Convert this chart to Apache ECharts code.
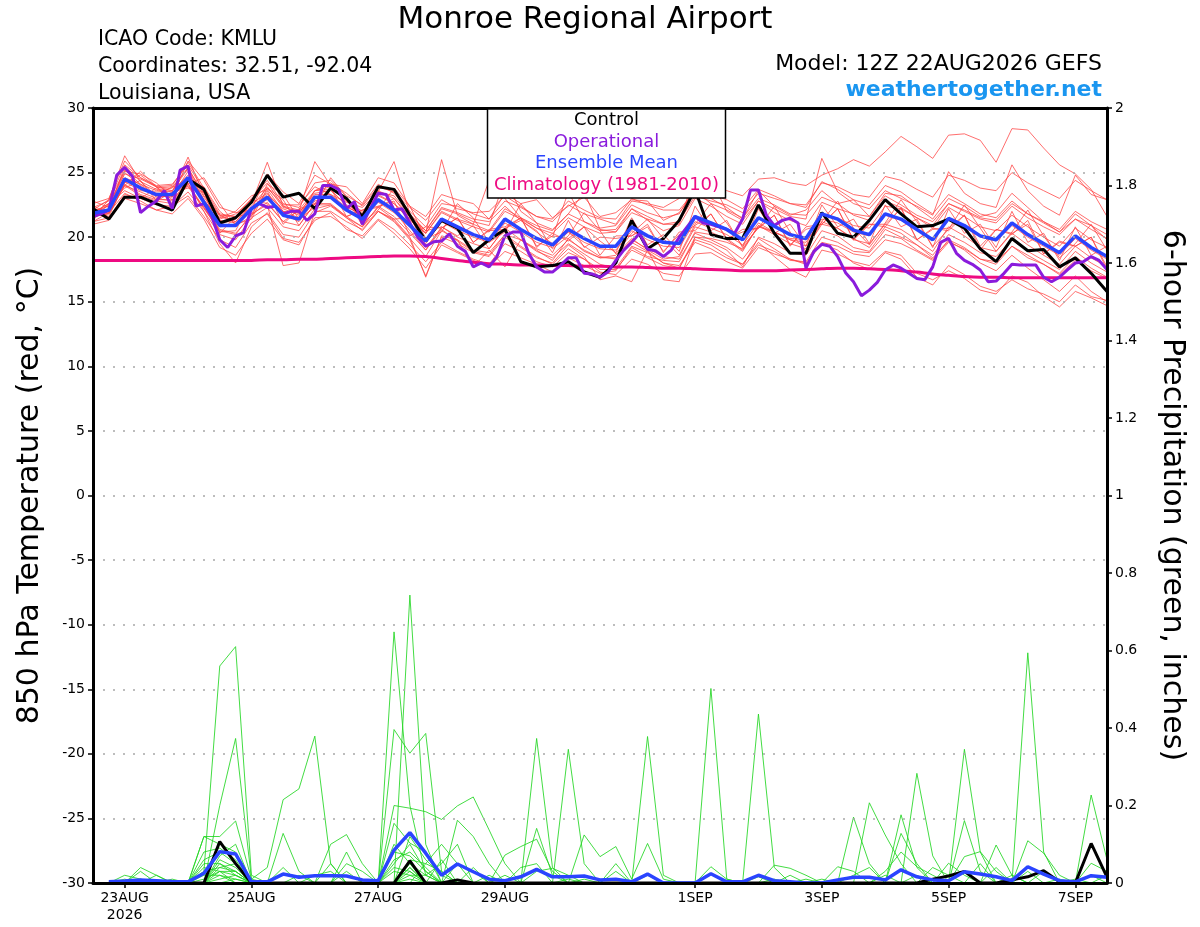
<!DOCTYPE html>
<html><head><meta charset="utf-8">
<script src="https://cdn.jsdelivr.net/npm/echarts@6/dist/echarts.min.js"></script>
<style>html,body{margin:0;padding:0;background:#fff}#c{width:1200px;height:927px}</style>
</head><body><div id="c"></div>
<script>
const FONT = '"DejaVu Sans", sans-serif';

// x-axis tick labels (6-hourly category index, 0 = 22AUG 12Z)
const tickIndex = [2, 10, 18, 26, 38, 46, 54, 62];
const tickText = ['23AUG\n2026', '25AUG', '27AUG', '29AUG', '1SEP', '3SEP', '5SEP', '7SEP'];

// forecast hours
const hours6 = Array.from({length: 65}, (_, k) => k * 6);     // temperature, 0..384
const hours3 = Array.from({length: 129}, (_, k) => k * 3);    // operational, 0..384
const hoursP = Array.from({length: 64}, (_, k) => (k + 1) * 6); // precip, 6..384

// 850 hPa temperature (C)
const control = [22.2,21.4,23.1,23.1,22.6,22.1,24.5,23.7,21.1,21.5,
  22.7,24.8,23.1,23.4,22.2,23.8,23.0,21.6,23.9,23.7,
  21.7,19.7,21.3,20.7,18.8,19.8,20.6,18.1,17.7,17.8,
  18.1,17.3,16.9,18.0,21.3,19.1,19.9,21.3,23.7,20.2,
  19.9,19.9,22.5,20.3,18.75,18.75,21.9,20.3,20.0,21.3,
  22.9,21.8,20.8,20.9,21.4,20.7,19.1,18.1,19.9,18.95,
  19.05,17.7,18.4,17.2,15.8];
const ensMean = [21.85,22.1,24.5,23.8,23.3,23.3,24.6,22.7,20.9,20.9,
  22.2,23.1,21.7,21.4,23.1,23.1,22.1,21.4,22.9,22.1,
  20.9,19.7,21.4,20.8,20.2,19.8,21.4,20.6,19.9,19.4,
  20.6,19.9,19.3,19.3,20.8,20.1,19.6,19.5,21.6,21.1,
  20.6,19.8,21.5,20.85,20.2,19.9,21.8,21.4,20.55,20.2,
  21.8,21.4,20.6,19.8,21.45,20.9,20.1,19.8,21.1,20.2,
  19.5,18.8,20.1,19.2,18.5];
const climatology = [18.2,18.2,18.2,18.2,18.2,18.2,18.2,18.2,18.2,18.2,
  18.2,18.25,18.25,18.3,18.3,18.35,18.4,18.45,18.5,18.55,
  18.55,18.5,18.35,18.2,18.05,17.95,17.9,17.85,17.85,17.8,
  17.8,17.75,17.75,17.7,17.7,17.65,17.6,17.6,17.55,17.5,
  17.45,17.4,17.4,17.4,17.45,17.5,17.55,17.6,17.6,17.55,
  17.5,17.4,17.3,17.15,17.05,16.95,16.9,16.9,16.85,16.85,
  16.85,16.85,16.85,16.85,16.85];
const operational = [21.6,21.8,22.1,24.8,25.4,24.7,21.9,22.4,22.8,23.6,
  22.2,25.2,25.5,22.4,22.6,21.6,19.8,19.2,20.1,20.35,
  22.2,22.6,22.3,22.4,21.8,22.0,22.0,21.3,21.8,24.0,
  24.0,23.7,22.2,22.75,21.0,22.2,23.4,23.3,22.1,22.2,
  21.1,20.0,19.3,19.65,19.7,20.25,19.3,18.9,17.7,18.0,
  17.7,18.5,20.1,20.4,20.4,18.75,17.7,17.3,17.3,17.8,
  18.4,18.4,17.2,17.15,16.9,17.3,18.2,19.0,19.6,20.3,
  19.06,18.95,18.5,19.0,20.0,20.8,21.6,21.1,21.0,20.8,
  20.6,20.3,21.4,23.65,23.65,21.7,20.9,21.3,21.46,21.1,
  17.6,18.9,19.45,19.3,18.5,17.25,16.55,15.47,15.9,16.5,
  17.46,17.85,17.6,17.2,16.8,16.7,17.7,19.6,19.9,18.75,
  18.2,17.9,17.46,16.55,16.6,17.2,17.9,17.85,17.85,17.85,
  16.9,16.55,16.9,17.46,18.0,18.1,18.5,18.2,17.5];

// ensemble members (temperature)
const mem01 = [22.3,22.8,25.6,24.6,23.9,24.0,25.8,23.8,21.8,21.6,23.0,24.4,22.6, 22.3,24.2,24.4,23.2,22.5,24.1,23.4,22.0,20.8,22.6,22.4,21.8,21.4, 22.8,22.3,21.6,21.2,22.5,21.8,21.4,21.0,22.8,22.6,22.3,23.0,24.5, 24.0,23.6,23.2,24.5,24.6,24.2,24.0,24.8,25.3,26.0,25.5,26.6,27.8, 27.0,26.1,27.9,28.0,27.5,25.8,28.4,28.3,26.9,25.6,24.9,23.7,21.6];
const mem02 = [21.6,21.8,24.0,23.2,22.8,22.6,24.2,22.0,20.2,19.8,21.5,22.3,20.8, 20.5,22.2,22.5,21.5,20.8,22.0,21.3,19.9,18.5,20.5,19.8,19.0,18.8, 20.2,19.8,18.9,18.4,19.5,18.7,17.9,17.6,19.3,18.8,18.0,17.6,19.8, 19.4,18.6,17.9,19.6,18.5,17.5,16.9,19.0,18.7,18.1,17.8,18.9,18.6, 17.2,16.7,17.4,16.8,15.9,15.6,17.0,16.5,15.4,14.6,15.8,15.3,14.7];
const mem03 = [21.5,22.9,26.3,24.3,23.7,23.5,26.2,23.2,21.7,21.2,22.6,25.8,22.4, 21.8,23.6,23.9,22.8,21.7,23.6,23.0,21.4,20.3,26.0,21.7,21.0,24.4, 23.0,21.5,20.7,20.0,23.5,21.2,20.5,20.6,22.2,21.3,20.5,20.9,23.0, 22.4,21.6,21.0,22.8,21.9,21.3,20.9,22.7,22.2,21.8,21.6,23.2,22.5, 21.7,21.2,22.6,22.0,21.4,21.1,22.4,21.5,20.8,20.2,21.4,20.6,19.9];
const mem04 = [21.2,21.5,23.3,23.0,22.5,22.4,23.5,22.0,19.5,18.0,20.8,21.9,20.2, 20.0,21.9,22.4,21.5,20.5,22.0,21.4,20.0,16.9,20.1,19.8,17.7,19.0, 17.7,19.8,19.0,18.2,19.9,18.9,18.4,18.6,19.9,19.0,18.3,18.5,20.8, 20.4,19.8,18.9,20.9,20.2,19.5,19.1,21.0,20.7,19.8,19.5,21.0,20.6, 19.8,18.9,20.8,20.1,19.2,18.9,20.3,19.4,18.6,17.9,19.3,18.4,17.7];
const mem05 = [22.0,22.4,25.2,24.1,23.6,23.8,25.4,23.1,21.4,21.8,22.9,23.9,22.3, 22.0,25.85,24.0,22.8,22.0,23.5,25.85,21.8,20.5,22.2,21.8,21.2,20.9, 24.5,22.0,21.1,20.6,21.8,23.5,20.6,20.4,22.2,21.6,21.0,21.0,25.0, 24.5,22.0,21.3,22.8,22.2,21.6,21.4,26.1,23.5,22.6,22.2,23.6,23.0, 22.4,21.7,25.07,23.4,22.6,22.3,25.6,23.6,22.4,21.7,24.8,23.3,22.9];
const mem06 = [22.4,21.9,24.0,23.5,23.0,22.8,24.0,22.2,20.5,20.2,21.8,22.5,17.8, 18.0,22.0,22.0,21.2,20.6,22.0,21.2,19.8,17.0,20.0,19.5,18.8,18.5, 20.0,19.2,18.4,18.0,19.4,18.5,16.7,17.0,16.55,19.0,16.7,16.55,20.0, 19.6,19.0,17.7,20.0,19.5,18.8,18.6,20.5,20.1,19.2,18.9,20.6,20.0, 19.4,18.6,20.2,19.6,18.8,18.5,19.8,18.9,18.2,17.5,18.9,18.0,17.3];
const mem07 = [22.1,22.9,25.1,24.9,24.2,23.1,25.9,24.4,22.3,21.9,22.1,24.9,23.5, 22.6,24.8,24.1,23.9,22.6,24.6,24.2,22.4,21.6,23.3,22.9,22.6,21.4, 23.4,22.6,22.9,21.5,22.4,23.1,21.6,21.9,22.9,22.8,21.3,21.9,23.6, 23.0,22.3,21.4,23.6,22.4,21.7,22.1,23.6,22.6,22.9,21.6,23.4,23.2, 22.3,21.4,23.0,22.4,21.6,21.9,23.4,22.3,21.2,20.4,21.4,20.9,19.8];
const mem08 = [22.1,21.6,24.2,24.8,23.9,22.9,24.3,23.9,22.0,21.0,21.4,23.8,22.9, 20.9,22.6,23.7,23.0,20.9,22.3,23.0,21.6,19.2,20.7,21.5,19.6,20.6, 20.8,21.5,19.3,20.1,19.9,20.8,19.7,18.8,21.5,19.4,20.2,18.9,22.4, 20.5,21.3,19.2,22.2,20.3,21.0,19.3,22.5,20.8,21.4,19.5,22.5,20.8, 21.4,19.2,22.2,20.3,21.0,19.2,22.0,19.6,20.3,18.2,20.8,18.6,19.3];
const mem09 = [21.3,22.6,23.6,23.0,23.8,23.9,23.9,22.3,20.4,20.5,22.9,22.6,21.2, 22.1,22.5,22.5,21.6,22.1,22.3,21.4,21.5,20.5,20.8,20.1,20.9,19.1, 20.7,21.3,20.5,18.8,21.3,19.2,20.0,19.9,20.1,20.8,18.9,20.2,20.9, 21.8,19.9,20.4,20.7,21.7,19.4,20.6,21.0,22.2,19.8,21.0,21.0,22.2, 19.8,20.6,20.7,21.7,19.3,20.6,20.3,21.0,18.7,19.6,19.3,20.0,17.7];
const mem10 = [21.7,22.5,25.0,24.0,23.1,23.2,25.1,22.9,21.0,21.4,22.6,23.4,22.0, 21.9,23.4,23.6,22.5,21.9,23.2,22.6,21.3,20.3,21.9,21.3,20.8,20.4, 22.0,21.4,20.7,20.3,21.5,20.8,20.3,20.4,21.9,21.4,21.0,21.2,23.2, 22.8,22.5,21.9,23.4,23.0,22.6,22.5,24.2,23.9,23.3,23.1,24.7,24.4, 23.7,23.1,24.8,24.4,23.8,23.6,25.0,24.2,23.6,23.0,24.4,23.6,22.9];
const mem11 = [22.0,21.8,24.1,23.3,22.9,22.9,24.1,22.3,20.6,20.3,21.7,22.7,21.2, 20.9,22.6,22.6,21.6,20.8,22.4,21.6,20.3,19.0,20.8,20.0,19.5,19.1, 20.7,19.8,19.1,18.6,19.8,19.0,18.4,18.4,19.8,19.1,18.5,18.3,20.3, 19.8,19.2,18.3,19.9,19.1,18.3,17.9,19.5,19.0,18.0,17.5,18.8,18.3, 16.9,16.3,17.8,17.1,16.2,15.8,16.7,16.0,15.6,15.0,16.3,15.4,15.1];
const mem12 = [21.2,21.9,23.4,22.8,22.1,22.4,23.2,21.6,19.8,19.2,21.1,21.8,19.9, 19.6,21.3,21.9,20.6,20.1,21.4,20.6,19.4,18.1,19.6,18.9,18.3,17.9, 19.5,18.9,18.1,17.7,18.8,18.3,17.3,17.1,18.3,17.9,17.2,17.0,18.7, 18.8,18.1,17.6,19.2,18.7,18.3,18.0,19.6,19.3,18.7,18.5,19.8,19.5, 18.9,18.2,19.6,19.1,18.3,18.1,19.3,18.4,17.9,17.1,18.2,17.4,16.8];
const mem13 = [21.9,22.6,23.8,24.4,22.8,23.5,23.8,23.5,20.3,21.6,21.8,23.6,21.0, 22.2,22.6,23.8,21.6,22.1,22.4,22.8,20.1,20.8,20.7,21.5,19.6,20.5, 20.6,21.5,19.2,20.3,19.7,20.8,18.6,20.1,20.1,21.0,18.8,20.4,20.5, 21.8,19.8,20.6,20.7,21.7,19.3,20.8,21.0,22.2,19.8,21.0,20.8,22.3, 19.8,20.7,20.5,21.7,19.0,20.6,20.2,21.3,18.7,19.7,19.3,20.0,17.5];
const mem14 = [22.6,23.0,25.9,24.6,24.0,24.1,25.6,23.6,21.7,21.6,22.9,24.2,22.4, 22.1,23.6,23.7,22.4,21.7,23.0,22.0,20.5,19.0,20.6,19.7,18.9,18.6, 20.2,19.3,18.5,17.9,19.1,18.3,17.5,17.5,19.0,18.4,17.8,17.6,20.0, 19.9,19.6,19.1,20.8,20.4,19.9,19.8,21.7,21.5,20.9,20.7,22.4,22.2, 21.5,20.9,22.6,22.1,21.5,21.3,22.6,21.8,21.2,20.6,22.0,21.2,20.6];
const mem15 = [21.9,22.6,24.0,25.1,23.9,22.6,24.1,24.6,22.6,20.9,21.6,24.1,23.3, 21.4,22.3,24.6,23.1,21.1,22.1,23.8,22.4,19.9,20.4,22.6,21.5,19.6, 20.4,22.6,21.1,19.1,20.1,21.9,20.5,18.7,20.3,21.4,19.9,18.6,21.0, 22.6,21.1,19.3,20.7,22.4,20.4,18.9,21.2,22.8,20.7,19.4,21.1,22.9, 21.2,19.3,20.6,22.5,20.7,18.9,20.4,22.1,20.1,18.4,19.5,21.0,19.0];
const mem16 = [22.2,22.0,24.6,24.1,23.2,23.1,24.4,22.6,20.8,20.9,22.3,22.9,21.8, 21.2,22.8,23.2,22.2,21.5,22.7,21.9,20.8,19.5,21.2,20.5,20.0,19.6, 21.1,20.4,19.6,19.2,20.4,19.6,19.1,19.0,20.5,19.8,19.3,19.2,21.2, 20.7,20.2,19.4,21.1,20.4,19.8,19.3,21.2,20.7,19.9,19.2,20.8,20.3, 19.4,18.4,19.7,19.0,18.0,17.4,18.6,17.6,16.7,15.8,17.0,15.8,15.0];
const mem17 = [21.7,22.0,24.3,23.6,23.5,23.6,24.8,22.9,21.3,21.1,22.3,23.3,22.2, 21.7,23.3,23.3,22.3,21.8,23.3,22.6,21.6,20.3,22.0,21.4,21.0,20.5, 22.2,21.5,20.9,20.5,21.8,21.2,20.7,20.9,22.5,21.9,21.5,21.8,23.8, 23.3,22.9,22.2,23.7,23.2,22.6,22.3,24.3,23.7,22.9,22.5,24.0,23.5, 22.6,21.8,23.3,22.6,21.8,21.5,22.8,21.8,21.1,20.4,21.8,20.9,20.2];
const mem18 = [22.8,22.3,24.9,24.5,23.9,23.6,25.3,23.4,21.6,21.2,22.4,23.8,22.5, 22.5,23.9,23.3,22.7,22.3,23.5,23.2,21.7,20.5,22.3,21.9,21.4,21.2, 22.4,21.3,20.4,19.5,20.4,19.3,18.5,18.3,19.6,18.9,18.0,17.8,19.6, 19.1,18.4,17.9,19.4,18.9,18.2,18.1,20.0,19.6,18.9,18.8,20.2,19.9, 19.0,18.3,19.8,19.2,18.3,17.9,19.3,18.6,17.9,17.2,18.5,17.6,16.9];
const mem19 = [21.5,22.0,25.5,24.3,23.2,23.9,25.3,22.8,21.5,22.0,23.2,23.7,22.0, 21.5,23.6,24.2,23.4,22.4,23.9,23.5,22.3,21.3,22.9,22.2,21.9,22.0, 23.2,22.4,21.6,21.4,22.8,22.1,21.5,21.4,23.0,22.5,22.1,22.1,23.6, 22.6,22.1,21.5,23.0,22.5,21.8,21.7,23.1,22.6,21.7,21.3,22.8,22.3, 21.5,20.7,22.3,21.6,20.8,20.5,21.7,20.8,20.0,19.3,20.7,19.8,19.2];
const mem20 = [21.0,21.3,23.0,22.6,22.1,21.8,23.0,21.4,19.2,18.6,20.3,21.4,19.8, 19.4,21.5,21.6,20.8,19.9,21.3,20.3,19.1,17.6,19.4,18.8,18.2,17.7, 18.9,18.4,17.9,17.3,18.4,17.8,17.2,17.4,19.2,18.5,18.2,18.1,20.4, 20.2,19.9,19.0,20.9,20.4,19.8,19.6,21.4,21.1,20.4,20.1,21.7,21.3, 20.6,19.8,21.4,20.8,20.0,19.7,20.9,20.0,19.3,18.6,19.9,19.0,18.3];
const tempMembers = [mem01,mem02,mem03,mem04,mem05,mem06,mem07,mem08,mem09,mem10,
  mem11,mem12,mem13,mem14,mem15,mem16,mem17,mem18,mem19,mem20];

// 6-hour precipitation (inches), 22AUG 18Z .. 7SEP 12Z
const precipControl = [0,0,0,0,0,0,0,0.107, 0.05,0,0,0,0,0,0,0, 0,0,0,0.057,0,0,0.008,0, 0,0,0,0,0,0,0,0,
  0,0,0,0,0,0,0,0, 0,0,0,0,0,0,0,0, 0,0,0,0,0.01,0.018,0.03,0, 0,0.008,0.016,0.032,0.003,0,0.102,0.015];
const precipMean = [.003,.005,.008,.006,.004,.003,.025,.081, .075,.003,.003,.023,.015,.019,.019,.018,
  .008,.006,.085,.13,.077,.02,.049,.029, .01,.006,.016,.035,.016,.016,.018,.008,
  .01,.003,.023,0,0,0,.024,.003, .003,.02,.006,.003,0,0,.008,.015,
  .015,.008,.034,.016,.008,.006,.029,.023, .016,.006,.042,.023,.006,.003,.019,.015];
const pm01 = [0,0,.04,.02,0,0,.03,.56, .61,.02,0,0,0,0,0,0, 0,0,.05,.1,.03,0,0,0, 0,0,0,.373,.04,0,0,0, 0,0,0,0,0,0,0,0, 0,0,0,0,0,0,0,.17, .05,0,0,0,0,0,0,0, 0,0,0,0,0,0,0,0];
const pm02 = [0,.02,.01,0,0,0,0,.2, .373,.01,0,0,0,0,0,0, 0,0,.648,.2,.02,0,0,0, 0,0,0,0,0,.345,.05,0, 0,0,0,0,0,0,0,0, 0,0,0,0,0,0,0,0, 0,0,0,0,0,0,.345,.08, 0,0,0,0,0,0,0,0];
const pm03 = [0,0,0,0,0,0,.12,.12, .16,.01,.04,.215,.243,.379,.05,0, 0,0,0,.743,.1,0,0,0, 0,0,0,0,0,0,0,0, 0,0,.378,.02,0,0,0,0, 0,0,0,0,0,0,0,0, 0,0,0,.283,.07,0,0,0, 0,0,0,0,0,0,0,0];
const pm04 = [0,0,0,0,0,0,.12,.1, .08,0,0,.128,.03,0,0,0, 0,0,.396,.335,.386,.03,0,0, 0,0,0,0,0,0,0,0, 0,0,0,0,0,0,.502,.01, 0,0,0,0,0,0,0,0, 0,0,0,0,0,0,0,0, 0,0,.594,.08,0,0,0,0];
const pm05 = [0,0,0,.02,0,0,.08,.09, .06,0,0,0,0,0,.1,.125, .05,0,.2,.193,.184,.164,.199,.222, .137,.05,0,0,0,0,0,0, 0,0,0,0,0,0,0,0, 0,.436,.04,0,0,0,0,0, 0,0,0,0,0,0,0,0, 0,0,0,0,0,0,.227,.06];
const pm06 = [0,0,0,0,0,0,.06,.08, .05,0,0,0,0,0,0,.08, 0,0,.154,.103,.08,0,.162,.12, .05,0,0,.141,.02,0,0,0, 0,0,0,0,0,0,0,0, 0,0,0,0,0,0,0,0, .207,.124,.05,0,0,0,0,0, 0,0,0,0,0,0,0,0];
const pm07 = [0,0,.03,0,0,0,0,.07, .1,0,0,0,0,0,.05,0, 0,0,0,.06,.05,.1,.05,0, 0,.072,.094,.113,.03,0,0,0, 0,0,0,0,0,0,0,0, 0,0,0,0,0,0,0,0, 0,0,.176,.04,0,0,.161,.03, 0,0,0,0,0,0,0,0];
const pm08 = [0,0,0,0,0,0,0,.06, .04,0,0,0,0,0,0,.05, .03,0,0,.05,.02,.05,.1,0, 0,0,0,0,0,0,.124,.068, .094,.01,.102,.01,0,0,0,0, 0,0,0,0,0,0,0,0, 0,0,.128,.05,0,0,0,0, .098,.02,0,0,0,0,0,0];
const pm09 = [0,0,0,0,0,0,.05,.05, .03,0,0,0,0,0,0,0, 0,0,.1,.05,0,0,0,0, 0,0,.04,.05,0,0,0,0, 0,0,0,0,0,0,0,0, 0,0,.046,.038,.02,0,0,0, 0,0,0,0,0,0,0,0, 0,0,.109,.077,.02,0,0,0];
const pm10 = [0,0,0,0,.01,0,0,.04, .05,0,0,.04,0,0,0,0, 0,0,0,.04,0,0,.05,.03, 0,0,0,0,0,0,0,0, .05,0,0,0,0,0,0,0, 0,0,0,0,0,0,.042,.03, 0,0,0,0,0,0,.068,.081, .03,0,0,0,0,0,0,0];
const pm11 = [0,0,0,0,0,0,0,.03, .03,0,0,0,.02,0,0,0, 0,0,.06,.08,.04,0,0,0, 0,0,0,0,0,0,0,0, 0,0,0,0,0,0,.042,.01, 0,0,0,0,0,0,0,0, 0,.03,.08,.042,.02,0,0,0, 0,0,0,0,0,0,.051,.03];
const pm12 = [0,0,0,0,0,0,.04,.03, .02,0,0,0,0,0,0,.03, 0,0,.04,.03,0,0,0,0, 0,0,0,.03,.038,.02,0,0, 0,0,0,0,0,0,0,0, 0,0,0,.02,0,0,0,0, 0,0,0,0,0,.051,.02,0, 0,0,0,0,0,0,0,0];
const pm13 = [0,0,0,0,0,0,.02,.02, 0,0,0,0,0,0,0,0, 0,0,0,.12,.06,.02,0,.04, 0,0,0,0,0,0,0,0, 0,0,0,0,0,0,0,0, 0,.016,0,0,0,0,0,.02, .04,0,0,0,0,0,0,.05, 0,0,0,0,0,0,0,0];
const pm14 = [0,0,0,0,0,0,0,.05, .02,0,0,0,0,0,0,0, 0,0,.08,.07,.03,0,0,0, 0,0,0,0,0,0,0,0, .03,0,0,0,0,0,0,0, 0,0,0,0,0,.01,0,0, 0,0,0,0,.04,.02,0,0, 0,0,0,.03,0,0,0,.02];
const pm15 = [0,.01,0,0,0,0,.03,.04, .03,0,0,0,0,.02,.03,0, 0,0,0,0,.05,.03,0,0, 0,0,0,0,0,0,0,0, 0,0,.02,0,0,0,0,0, 0,0,0,0,0,0,0,0, 0,0,0,.02,0,0,0,0, .04,0,0,0,0,0,0,0];
const pm16 = [0,0,0,0,0,0,0,.02, .01,0,0,0,0,0,0,0, 0,0,0,.04,0,.06,0,0, 0,.02,0,0,0,0,0,0, 0,0,0,0,0,0,0,0, 0,0,0,0,0,0,0,0, 0,.02,0,0,0,0,0,0, 0,0,0,0,.01,0,0,0];
const pm17 = [0,0,0,0,0,0,.01,.03, 0,0,0,0,0,0,0,0, 0,0,.03,.02,0,0,0,0, 0,0,0,0,0,.01,0,0, 0,0,0,0,0,0,0,0, 0,0,0,0,.01,0,0,0, 0,0,0,0,0,0,0,0, 0,.02,0,0,0,0,.02,0];
const pm18 = [0,0,0,0,0,0,0,.01, .02,0,0,0,0,0,0,0, 0,0,0,.02,.02,0,0,0, 0,0,0,0,0,0,0,0, 0,0,0,0,0,0,0,0, 0,0,.01,0,0,0,0,0, 0,0,0,0,0,0,0,0, 0,0,.03,0,0,0,0,0];
const pm19 = [0,0,.01,0,0,0,0,0, 0,0,0,0,0,0,0,0, 0,0,0,.03,0,0,0,0, .02,0,0,0,0,0,0,0, 0,0,0,0,0,0,0,0, 0,0,0,0,0,0,0,0, 0,0,0,0,.01,0,0,0, 0,0,0,0,0,0,0,0];
const pm20 = [0,0,0,0,0,0,0,0, .01,0,0,0,0,0,0,0, 0,0,0,.01,0,0,0,0, 0,0,0,0,0,0,.01,0, 0,0,0,0,0,0,0,0, 0,0,0,0,0,0,0,0, 0,0,0,0,0,0,0,0, 0,0,0,0,0,.01,0,0];
const precipMembers = [pm01,pm02,pm03,pm04,pm05,pm06,pm07,pm08,pm09,pm10,
  pm11,pm12,pm13,pm14,pm15,pm16,pm17,pm18,pm19,pm20];

// ---------- build chart ----------
const cats = hours6.map((h, k) => {
  const p = tickIndex.indexOf(k);
  return p >= 0 ? tickText[p] : ' ' + k;
});
const showTick = (idx) => tickIndex.indexOf(idx) >= 0;
const pairs = (hrs, vals) => vals.map((v, k) => [hrs[k], v]);

const C_RED = '#ff4040', C_GREEN = '#22d622', C_OP = '#8a1bdc', C_MEAN = '#2a44ff', C_CLIM = '#ee0a82';

const series = [];
tempMembers.forEach((m, k) => series.push({
  name: 'Member ' + (k + 1), type: 'line', xAxisIndex: 1, yAxisIndex: 0,
  data: pairs(hours6, m), symbol: 'none', z: 2, silent: true,
  lineStyle: {color: C_RED, width: 0.9, opacity: 0.85}
}));
precipMembers.forEach((m, k) => series.push({
  name: 'Precip member ' + (k + 1), type: 'line', xAxisIndex: 1, yAxisIndex: 1,
  data: pairs(hoursP, m), symbol: 'none', z: 2, silent: true,
  lineStyle: {color: C_GREEN, width: 0.9, opacity: 0.95}
}));
series.push({name: 'Climatology (1981-2010)', type: 'line', xAxisIndex: 1, yAxisIndex: 0,
  data: pairs(hours6, climatology), symbol: 'none', smooth: 0.3, z: 3,
  lineStyle: {color: C_CLIM, width: 3}});
series.push({name: 'Control', type: 'line', xAxisIndex: 1, yAxisIndex: 0,
  data: pairs(hours6, control), symbol: 'none', z: 3.5,
  lineStyle: {color: '#000', width: 3}});
series.push({name: 'Control precip', type: 'line', xAxisIndex: 1, yAxisIndex: 1,
  data: pairs(hoursP, precipControl), symbol: 'none', z: 3.5,
  lineStyle: {color: '#000', width: 3}});
series.push({name: 'Operational', type: 'line', xAxisIndex: 1, yAxisIndex: 0,
  data: pairs(hours3, operational), symbol: 'none', z: 4,
  lineStyle: {color: C_OP, width: 3}});
series.push({name: 'Ensemble Mean', type: 'line', xAxisIndex: 1, yAxisIndex: 0,
  data: pairs(hours6, ensMean), symbol: 'none', z: 5,
  lineStyle: {color: C_MEAN, width: 3.5}});
series.push({name: 'Ensemble Mean precip', type: 'line', xAxisIndex: 1, yAxisIndex: 1,
  data: pairs(hoursP, precipMean), symbol: 'none', z: 5,
  lineStyle: {color: C_MEAN, width: 3.5}});

const txt = (x, y, text, size, align, extra) => ({
  type: 'text', x: x, y: y, silent: true,
  style: Object.assign({text: text, fontFamily: FONT, fontSize: size, fill: '#000',
    align: align, verticalAlign: 'middle', textAlign: align, textVerticalAlign: 'middle'}, extra || {})
});

const option = {
  animation: false,
  backgroundColor: '#fff',
  textStyle: {fontFamily: FONT},
  title: {
    text: '{c|Control}\n{o|Operational}\n{m|Ensemble Mean}\n{k|Climatology (1981-2010)}',
    left: 599.5, top: 109, textAlign: 'center',
    backgroundColor: '#fff', borderColor: '#000', borderWidth: 1.5,
    padding: [1, 7, 2, 7], z: 10,
    textStyle: {fontFamily: FONT, fontSize: 18, fontWeight: 'normal', lineHeight: 21.5,
      rich: {
        c: {color: '#000', fontFamily: FONT, fontSize: 18, lineHeight: 21.5},
        o: {color: C_OP, fontFamily: FONT, fontSize: 18, lineHeight: 21.5},
        m: {color: C_MEAN, fontFamily: FONT, fontSize: 18, lineHeight: 21.5},
        k: {color: C_CLIM, fontFamily: FONT, fontSize: 18, lineHeight: 21.5}
      }}
  },
  graphic: {elements: [
    txt(585, 19.5, 'Monroe Regional Airport', 31, 'center'),
    txt(98, 40, 'ICAO Code: KMLU', 20.5, 'left'),
    txt(98, 67, 'Coordinates: 32.51, -92.04', 20.5, 'left'),
    txt(98, 94, 'Louisiana, USA', 20.5, 'left'),
    txt(1102, 64, 'Model: 12Z 22AUG2026 GEFS', 22, 'right'),
    txt(1102, 90, 'weathertogether.net', 22, 'right', {fill: '#1a96f0', fontWeight: 'bold'})
  ]},
  grid: {left: 93, right: 93, top: 108, bottom: 44, show: false, containLabel: false, outerBoundsMode: 'none'},
  xAxis: [
    {type: 'category', data: cats, boundaryGap: false, position: 'bottom', z: 6,
      axisLine: {show: true, onZero: false, lineStyle: {color: '#000', width: 3}},
      axisTick: {show: true, interval: showTick, length: 5, inside: false, lineStyle: {color: '#000', width: 1.5}},
      axisLabel: {show: true, interval: showTick, color: '#000', fontSize: 14, fontFamily: FONT, margin: 7, lineHeight: 17, hideOverlap: false},
      splitLine: {show: false}},
    {type: 'value', min: 0, max: 384, show: false, splitLine: {show: false}},
    {type: 'value', min: 0, max: 384, position: 'top', z: 6,
      axisLine: {show: true, onZero: false, lineStyle: {color: '#000', width: 3}},
      axisTick: {show: false}, axisLabel: {show: false}, splitLine: {show: false}}
  ],
  yAxis: [
    {type: 'value', min: -30, max: 30, interval: 5, position: 'left', z: 6,
      name: '850 hPa Temperature (red, \u00B0C)', nameLocation: 'middle', nameGap: 48, nameRotate: 90,
      nameTextStyle: {fontSize: 30, color: '#000', fontFamily: FONT},
      axisLine: {show: true, onZero: false, lineStyle: {color: '#000', width: 3}},
      axisTick: {show: true, length: 5, lineStyle: {color: '#000', width: 1.5}},
      axisLabel: {color: '#000', fontSize: 14, fontFamily: FONT, margin: 8},
      splitLine: {show: true, lineStyle: {color: '#a8a8a8', width: 1.5, type: [2, 8]}}},
    {type: 'value', min: 0, max: 2, interval: 0.2, position: 'right', z: 6,
      name: '6-hour Precipitation (green, inches)', nameLocation: 'middle', nameGap: 50, nameRotate: -90,
      nameTextStyle: {fontSize: 30, color: '#000', fontFamily: FONT},
      axisLine: {show: true, onZero: false, lineStyle: {color: '#000', width: 3}},
      axisTick: {show: true, length: 5, lineStyle: {color: '#000', width: 1.5}},
      axisLabel: {color: '#000', fontSize: 14, fontFamily: FONT, margin: 8},
      splitLine: {show: false}}
  ],
  series: series
};

const chart = echarts.init(document.getElementById('c'), null, {renderer: 'canvas'});
chart.setOption(option);
</script>
</body></html>
